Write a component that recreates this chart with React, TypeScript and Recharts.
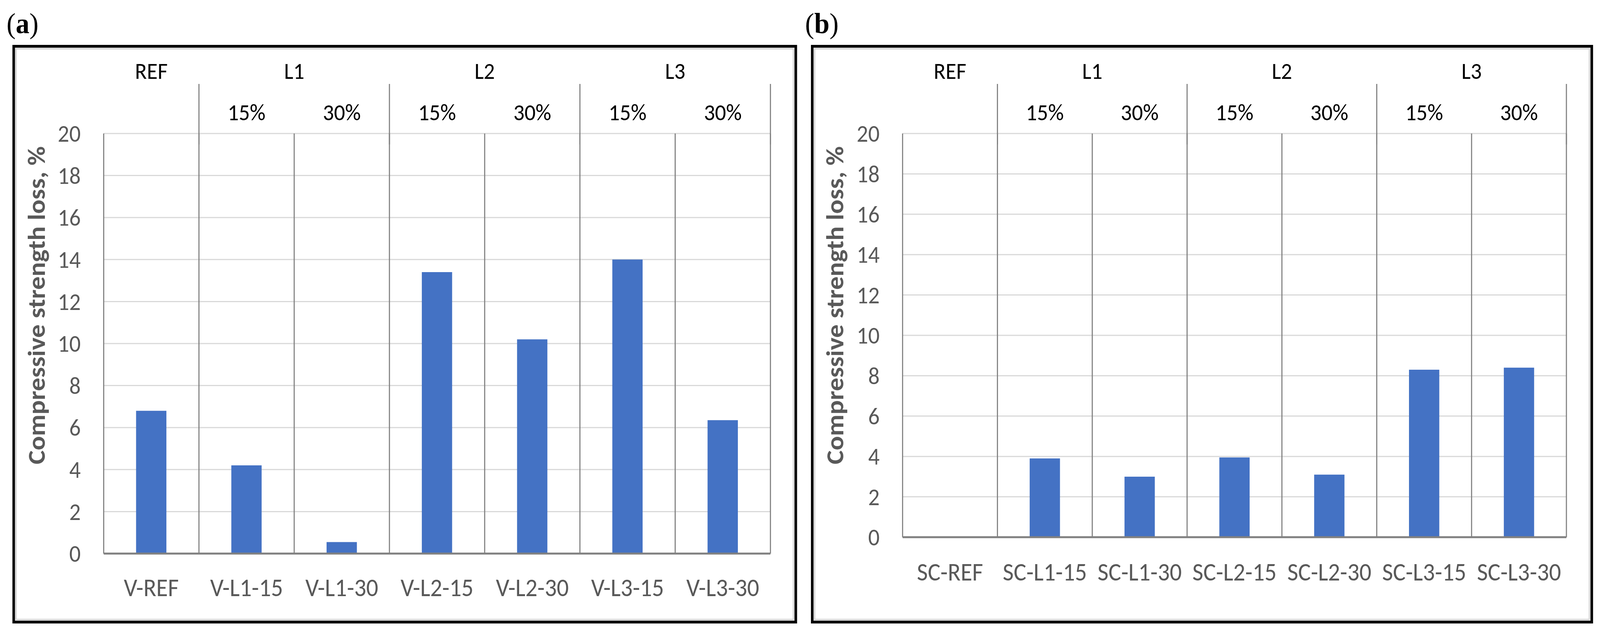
import React from 'react';
import { BarChart, Bar, XAxis, YAxis, CartesianGrid, ReferenceLine } from 'recharts';

// header rows shared by both panels
const groupLabels = ['REF', 'L1', 'L1', 'L2', 'L2', 'L3', 'L3'];
const dosageLabels = ['', '15%', '30%', '15%', '30%', '15%', '30%'];
const yTicks = [0, 2, 4, 6, 8, 10, 12, 14, 16, 18, 20];

// panel (a)
const vCategories = ['V-REF', 'V-L1-15', 'V-L1-30', 'V-L2-15', 'V-L2-30', 'V-L3-15', 'V-L3-30'];
const vLoss = [6.8, 4.2, 0.55, 13.4, 10.2, 14.0, 6.35];

// panel (b)
const scCategories = ['SC-REF', 'SC-L1-15', 'SC-L1-30', 'SC-L2-15', 'SC-L2-30', 'SC-L3-15', 'SC-L3-30'];
const scLoss = [0, 3.9, 3.0, 3.95, 3.1, 8.3, 8.4];

const yTitle = 'Compressive strength loss, %';

const PAGE_W = 4382;
const PAGE_H = 1624;
const FONT = "Carlito, Calibri, 'Liberation Sans Narrow', 'Liberation Sans', sans-serif";
const GRID = '#808080';

const HeaderTick = (props: any) => {
  const { x, y, payload, fallbackHalf } = props;
  const i = payload.index;
  const half = payload.offset || fallbackHalf;
  const first = i === 0 || groupLabels[i] !== groupLabels[i - 1];
  let count = 0;
  if (first) {
    let j = i;
    while (j < groupLabels.length && groupLabels[j] === groupLabels[i]) {
      count++;
      j++;
    }
  }
  const last = i === groupLabels.length - 1;
  return (
    <g>
      {dosageLabels[i] && (
        <text x={x} y={y - 54} textAnchor="middle" dominantBaseline="central" fontSize={60} fill="#000" fontFamily={FONT}>
          {dosageLabels[i]}
        </text>
      )}
      {first && (
        <text x={x - half + count * half} y={y - 160} textAnchor="middle" dominantBaseline="central" fontSize={60} fill="#000" fontFamily={FONT}>
          {groupLabels[i]}
        </text>
      )}
      {first && i > 0 && <line x1={x - half} x2={x - half} y1={y - 127} y2={y + 28} stroke={GRID} strokeWidth={3} />}
      {last && <line x1={x + half} x2={x + half} y1={y - 127} y2={y + 28} stroke={GRID} strokeWidth={3} />}
    </g>
  );
};

const CategoryTick = (props: any) => {
  const { x, y, payload, gap } = props;
  return (
    <text x={x} y={y + gap} textAnchor="middle" dominantBaseline="central" fontSize={65} fill="#595959" fontFamily={FONT}>
      {payload.value}
    </text>
  );
};

const ValueTick = (props: any) => {
  const { x, y, payload } = props;
  return (
    <text x={x - 63} y={y} textAnchor="end" dominantBaseline="central" fontSize={62} fill="#595959" fontFamily={FONT}>
      {payload.value}
    </text>
  );
};

const AxisTitle = (props: any) => {
  const { viewBox, centerY } = props;
  const cx = viewBox.x + 66;
  const cy = centerY;
  return (
    <text x={cx} y={cy} transform={`rotate(-90, ${cx}, ${cy})`} textAnchor="middle" dominantBaseline="central" fontSize={68} fontWeight="bold" fill="#595959" fontFamily={FONT}>
      {yTitle}
    </text>
  );
};

interface PanelProps {
  left: number;
  top: number;
  width: number;
  height: number;
  categories: string[];
  values: number[];
  yAxisWidth: number;
  xAxisHeight: number;
  labelGap: number;
  letter: string;
  letterLeft: number;
}

const Panel = ({ left, top, width, height, categories, values, yAxisWidth, xAxisHeight, labelGap, letter, letterLeft }: PanelProps) => {
  const data = categories.map((name, i) => ({ name, value: values[i] }));
  const margin = { top: 226, right: 73, bottom: 0, left: 0 };
  const fallbackHalf = (width - margin.right - yAxisWidth) / categories.length / 2;
  return (
    <>
      <div
        style={{
          position: 'absolute',
          left: letterLeft,
          top: 22,
          fontFamily: "'Liberation Serif', 'Times New Roman', serif",
          fontSize: 75,
          lineHeight: '75px',
          color: '#000',
        }}
      >
        (<b>{letter}</b>)
      </div>
      <div style={{ position: 'absolute', left, top, width, height }}>
        <BarChart width={width} height={height} data={data} margin={margin} barCategoryGap="34%">
          <CartesianGrid horizontal vertical={false} stroke="#d9d9d9" strokeWidth={3} />
          <XAxis
            dataKey="name"
            interval={0}
            height={xAxisHeight}
            tickSize={0}
            tickMargin={0}
            tickLine={false}
            axisLine={{ stroke: GRID, strokeWidth: 5 }}
            tick={(p: any) => <CategoryTick {...p} gap={labelGap} />}
          />
          <XAxis
            xAxisId="top"
            dataKey="name"
            orientation="top"
            interval={0}
            height={1}
            tickSize={0}
            tickMargin={0}
            tickLine={false}
            axisLine={false}
            tick={(p: any) => <HeaderTick {...p} fallbackHalf={fallbackHalf} />}
          />
          <YAxis
            domain={[0, 20]}
            ticks={yTicks}
            interval={0}
            width={yAxisWidth}
            tickSize={0}
            tickMargin={0}
            tickLine={false}
            axisLine={false}
            tick={(p: any) => <ValueTick {...p} />}
            label={<AxisTitle centerY={667} />}
          />
          {categories.map((c) => (
            <ReferenceLine key={c} x={c} position="start" stroke={GRID} strokeWidth={3} />
          ))}
          <ReferenceLine x={categories[categories.length - 1]} position="end" stroke={GRID} strokeWidth={3} />
          <Bar dataKey="value" fill="#4472c4" isAnimationActive={false} />
        </BarChart>
        <div
          style={{
            position: 'absolute',
            left: 0,
            top: 0,
            width,
            height,
            boxSizing: 'border-box',
            border: '7px solid #000',
            boxShadow: 'inset 0 0 0 5px #d9d9d9',
            pointerEvents: 'none',
          }}
        />
      </div>
    </>
  );
};

export default function App() {
  // the real CSS viewport may differ from 4382x1624, so stretch the design onto it
  const vw = typeof window !== 'undefined' ? window.innerWidth : PAGE_W;
  const vh = typeof window !== 'undefined' ? window.innerHeight : PAGE_H;
  const sx = Math.min(1, vw / PAGE_W);
  const sy = Math.min(1, vh / PAGE_H);
  return (
    <div
      style={{
        position: 'absolute',
        left: 0,
        top: 0,
        width: Math.floor(PAGE_W * sx),
        height: Math.floor(PAGE_H * sy),
        overflow: 'hidden',
        background: '#fff',
      }}
    >
      <div
        style={{
          position: 'absolute',
          left: 0,
          top: 0,
          width: PAGE_W,
          height: PAGE_H,
          transform: `scale(${sx}, ${sy})`,
          transformOrigin: '0 0',
        }}
      >
        <Panel
          left={34}
          top={115}
          width={2149}
          height={1482}
          categories={vCategories}
          values={vLoss}
          yAxisWidth={250}
          xAxisHeight={179}
          labelGap={87}
          letter="a"
          letterLeft={18}
        />
        <Panel
          left={2221}
          top={115}
          width={2142}
          height={1482}
          categories={scCategories}
          values={scLoss}
          yAxisWidth={251}
          xAxisHeight={221}
          labelGap={89}
          letter="b"
          letterLeft={2205}
        />
      </div>
    </div>
  );
}
